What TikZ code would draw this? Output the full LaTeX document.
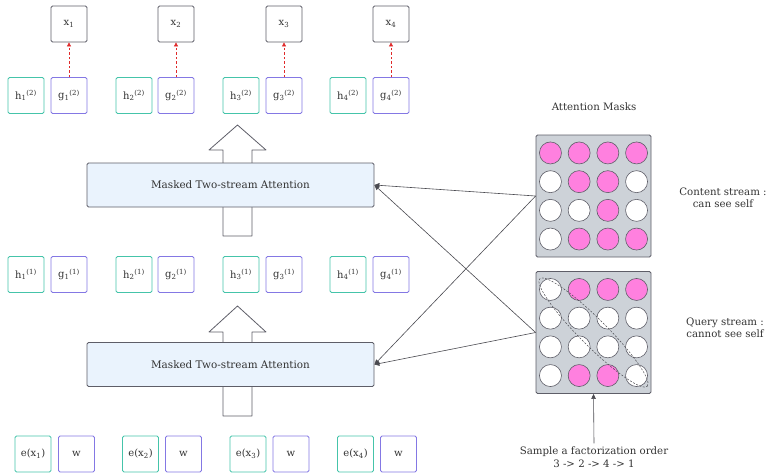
\documentclass[tikz,border=0pt]{standalone}
\usepackage{fontspec}
\setmainfont{DejaVu Serif}
\usetikzlibrary{arrows.meta,shapes.geometric,calc}
\definecolor{txt}{HTML}{333333}
\definecolor{hcol}{HTML}{45C4AA}
\definecolor{gcol}{HTML}{8478E4}
\definecolor{xcol}{HTML}{5E5E68}
\definecolor{boxfill}{HTML}{EAF3FD}
\definecolor{panelfill}{HTML}{CDD2D8}
\definecolor{pink}{HTML}{FF80DF}
\definecolor{linecol}{HTML}{4A4A50}
\definecolor{redarr}{HTML}{E02A2A}
\tikzset{
  cell/.style={rounded corners=1.5pt, minimum width=36pt, minimum height=36pt,
    inner sep=0pt, line width=0.8pt, fill=white, text=txt, font=\fontsize{10}{11}\selectfont},
  hbox/.style={cell, draw=hcol},
  gbox/.style={cell, draw=gcol},
  xbox/.style={cell, draw=xcol},
  attn/.style={draw=xcol, fill=boxfill, rounded corners=1.5pt, line width=0.8pt,
    minimum width=287pt, minimum height=44pt, text=txt, font=\fontsize{10.4}{12}\selectfont},
  panel/.style={draw=xcol, fill=panelfill, rounded corners=1.5pt, line width=0.8pt,
    minimum width=115pt, minimum height=122pt},
  dot/.style={circle, draw=xcol, line width=0.6pt, minimum size=22pt, inner sep=0pt},
  on/.style={dot, fill=pink},
  off/.style={dot, fill=white},
  label/.style={text=txt, font=\fontsize{10.2}{12.4}\selectfont, align=center},
  feed/.style={draw=linecol, line width=0.6pt, -{Triangle[length=5pt,width=4.5pt]}},
  pred/.style={draw=redarr, line width=0.7pt, dashed, dash pattern=on 2.5pt off 2pt,
    -{Triangle[length=4pt,width=4pt]}},
  bigarrow/.style={draw=xcol, fill=white, line width=0.8pt, line join=round}
}
\begin{document}
\begin{tikzpicture}[x=1pt,y=-1pt]
\useasboundingbox (0,0) rectangle (767,474);

% upward flow arrows behind the attention blocks
\draw[bigarrow] (223,236) -- (223,150) -- (209,150) -- (237.5,125) -- (266,150)
  -- (252,150) -- (252,236) -- cycle;
\draw[bigarrow] (223,416) -- (223,332) -- (209,332) -- (237.5,306) -- (266,332)
  -- (252,332) -- (252,416) -- cycle;

% attention blocks
\node[attn] (att2) at (230.5,185) {Masked Two-stream Attention};
\node[attn] (att1) at (230.5,364.5) {Masked Two-stream Attention};

% predicted tokens
\node[xbox] (x1) at (69,24) {x\textsubscript{1}};
\node[xbox] (x2) at (176,24) {x\textsubscript{2}};
\node[xbox] (x3) at (284,24) {x\textsubscript{3}};
\node[xbox] (x4) at (391,24) {x\textsubscript{4}};

% second layer states
\node[hbox] (h12) at (26,95.5)  {h\textsubscript{1}\textsuperscript{(2)}};
\node[gbox] (g12) at (69,95.5)  {g\textsubscript{1}\textsuperscript{(2)}};
\node[hbox] (h22) at (134,95.5) {h\textsubscript{2}\textsuperscript{(2)}};
\node[gbox] (g22) at (176,95.5) {g\textsubscript{2}\textsuperscript{(2)}};
\node[hbox] (h32) at (241,95.5) {h\textsubscript{3}\textsuperscript{(2)}};
\node[gbox] (g32) at (284,95.5) {g\textsubscript{3}\textsuperscript{(2)}};
\node[hbox] (h42) at (348,95.5) {h\textsubscript{4}\textsuperscript{(2)}};
\node[gbox] (g42) at (391,95.5) {g\textsubscript{4}\textsuperscript{(2)}};

% first layer states
\node[hbox] (h11) at (26,274.5)  {h\textsubscript{1}\textsuperscript{(1)}};
\node[gbox] (g11) at (69,274.5)  {g\textsubscript{1}\textsuperscript{(1)}};
\node[hbox] (h21) at (134,274.5) {h\textsubscript{2}\textsuperscript{(1)}};
\node[gbox] (g21) at (176,274.5) {g\textsubscript{2}\textsuperscript{(1)}};
\node[hbox] (h31) at (241,274.5) {h\textsubscript{3}\textsuperscript{(1)}};
\node[gbox] (g31) at (284,274.5) {g\textsubscript{3}\textsuperscript{(1)}};
\node[hbox] (h41) at (348,274.5) {h\textsubscript{4}\textsuperscript{(1)}};
\node[gbox] (g41) at (391,274.5) {g\textsubscript{4}\textsuperscript{(1)}};

% input embeddings
\node[hbox] (e1) at (33,454)    {e(x\textsubscript{1})};
\node[gbox] (w1) at (76.5,454)  {w};
\node[hbox] (e2) at (140.5,454) {e(x\textsubscript{2})};
\node[gbox] (w2) at (183.5,454) {w};
\node[hbox] (e3) at (248,454)   {e(x\textsubscript{3})};
\node[gbox] (w3) at (291,454)   {w};
\node[hbox] (e4) at (355.5,454) {e(x\textsubscript{4})};
\node[gbox] (w4) at (398.5,454) {w};

% query stream predicts the tokens
\draw[pred] (g12.north) -- (x1.south);
\draw[pred] (g22.north) -- (x2.south);
\draw[pred] (g32.north) -- (x3.south);
\draw[pred] (g42.north) -- (x4.south);

% attention mask panels
\node[label] (masks) at (594,107) {Attention Masks};
\node[panel] (cmask) at (593.5,196) {};
\node[panel] (qmask) at (593.5,332.5) {};

% content stream mask
\foreach \r/\row in {1/{1,1,1,1}, 2/{0,1,1,0}, 3/{0,0,1,0}, 4/{0,1,1,1}} {
  \foreach \v [count=\c] in \row {
    \ifnum\v=1 \def\st{on}\else\def\st{off}\fi
    \node[\st] (c\r\c) at ($(cmask.center)+({(\c-2.5)*28.7},{(\r-2.5)*28.7})$) {};
  }
}
% query stream mask
\foreach \r/\row in {1/{0,1,1,1}, 2/{0,0,0,0}, 3/{0,0,0,0}, 4/{0,1,1,0}} {
  \foreach \v [count=\c] in \row {
    \ifnum\v=1 \def\st{on}\else\def\st{off}\fi
    \node[\st] (q\r\c) at ($(qmask.center)+({(\c-2.5)*28.7},{(\r-2.5)*28.7})$) {};
  }
}
% diagonal that the query stream hides
\node[draw=linecol, dashed, dash pattern=on 2pt off 1.5pt, line width=0.5pt, ellipse,
  minimum width=152pt, minimum height=27pt, rotate=-45] (diag) at ($(q11)!0.5!(q44)$) {};

\node[label] (ctext) at (723,198) {Content stream :\\can see self};
\node[label] (qtext) at (725,328) {Query stream :\\cannot see self};

% masks feed both attention layers
\draw[feed] (cmask.west) -- (att2.east);
\draw[feed] (qmask.west) -- (att2.east);
\draw[feed] (cmask.west) -- (att1.east);
\draw[feed] (qmask.west) -- (att1.east);

% factorization order
\node[label] (order) at (594,457) {Sample a factorization order\\3 -> 2 -> 4 -> 1};
\draw[feed] (order.north) -- (qmask.south);
\end{tikzpicture}
\end{document}
